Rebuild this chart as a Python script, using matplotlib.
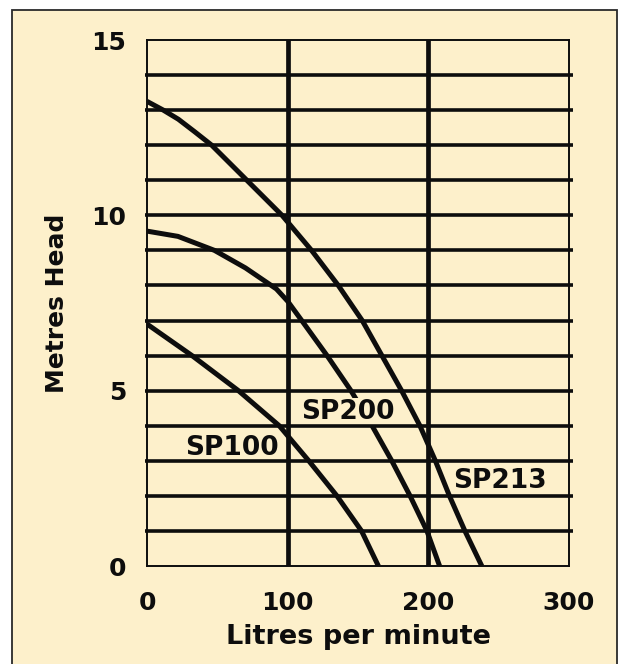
import matplotlib
matplotlib.use("Agg")
import matplotlib.pyplot as plt
from matplotlib.patches import Rectangle

# pump curves: flow (litres/min) vs head (metres)
sp100_flow = [0, 16, 32, 65, 94, 115, 135, 152.5, 164.5]
sp100_head = [6.9, 6.45, 6.0, 5.0, 4.0, 3.0, 2.0, 1.0, 0.0]

sp200_flow = [0, 22, 48, 70, 92, 100, 110, 128, 145, 160, 174, 187, 199, 208]
sp200_head = [9.55, 9.4, 9.0, 8.5, 7.9, 7.55, 7.0, 6.0, 5.0, 4.0, 3.0, 2.0,
              1.0, 0.0]

sp213_flow = [0, 11.6, 22.3, 34, 46, 71, 96, 117, 136, 153, 167, 181, 194,
              205, 215, 226, 238]
sp213_head = [13.25, 13.0, 12.74, 12.38, 12.0, 11.0, 10.0, 9.0, 8.0, 7.0, 6.0,
              5.0, 4.0, 3.0, 2.0, 1.0, 0.0]

labels = ["SP100", "SP200", "SP213"]
label_pos = [(60.5, 3.37), (143, 4.38), (251, 2.41)]

x_ticks = [0, 100, 200, 300]
y_ticks = [0, 5, 10, 15]
head_grid = list(range(1, 15))
flow_grid = [100, 200]

BEIGE = "#fdf0cb"
INK = "#0d0d0d"
FONT = "DejaVu Sans"

W, H = 619, 664
fig = plt.figure(figsize=(W / 100, H / 100), dpi=100, facecolor="white")

# beige panel with a dark border
fig.patches.append(Rectangle((12 / W, -0.05), (617 - 12) / W, 1.05 - 10 / H,
                             transform=fig.transFigure, facecolor=BEIGE,
                             edgecolor="#2a2a2a", linewidth=1.3, zorder=-10))

ax = fig.add_axes([147 / W, (H - 566) / H, (569 - 147) / W, (566 - 40) / H])
ax.set_facecolor(BEIGE)
ax.set_xlim(0, 300)
ax.set_ylim(0, 15)

for s in ax.spines.values():
    s.set_linewidth(1.4)
    s.set_color(INK)

ax.hlines(head_grid, -1.5, 303, colors=INK, linewidth=2.6, clip_on=False,
          zorder=5)
for f in flow_grid:
    ax.axvline(f, color=INK, linewidth=3.4, zorder=5)

for fl, hd in [(sp100_flow, sp100_head), (sp200_flow, sp200_head),
               (sp213_flow, sp213_head)]:
    ax.plot(fl, hd, color=INK, linewidth=3.6, solid_joinstyle="round",
            solid_capstyle="butt", zorder=3)

for name, (x, y) in zip(labels, label_pos):
    ax.text(x, y, name, ha="center", va="center", fontsize=19,
            fontweight="bold", family=FONT, color=INK, zorder=4,
            bbox=dict(facecolor=BEIGE, edgecolor="none", pad=1.0))

ax.set_xticks(x_ticks)
ax.set_yticks(y_ticks)
ax.tick_params(length=0, labelsize=18, colors=INK)
ax.tick_params(axis="x", pad=18)
ax.tick_params(axis="y", pad=15)
for t in ax.get_xticklabels() + ax.get_yticklabels():
    t.set_family(FONT)
    t.set_fontweight("bold")

ax.set_xlabel("Litres per minute", fontsize=19.5, fontweight="bold",
              family=FONT, color=INK, va="center")
ax.set_ylabel("Metres Head", fontsize=18, fontweight="bold", family=FONT,
              color=INK, va="center")
ax.xaxis.set_label_coords(0.5, (566 - 637) / 526)
ax.yaxis.set_label_coords((57 - 147) / 422, 0.5)

fig.savefig("out.png", dpi=100, facecolor="white")
